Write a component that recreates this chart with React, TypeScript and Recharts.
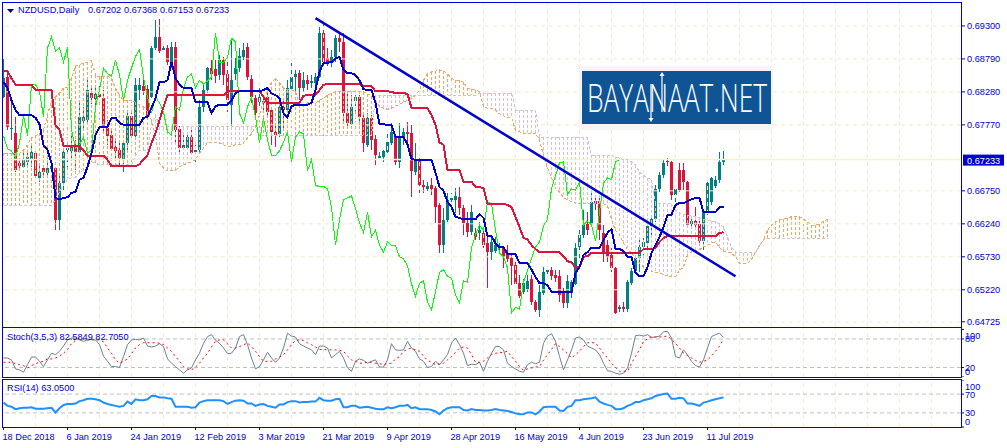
import React from "react";
import {
  Bar,
  ComposedChart,
  Line,
  ReferenceLine,
  XAxis,
  YAxis,
} from "recharts";

// Prices are kept in pips (price x 10000) to keep the lists short.
const opens = [
  6820,6851,6771,6764,6718,6712,6720,6724,6733,6695,
  6710,6703,6709,6710,6630,6687,6738,6737,6746,6735,
  6783,6784,6826,6817,6825,6818,6772,6761,6743,6738,
  6724,6749,6791,6760,6831,6837,6832,6820,6896,6913,
  6893,6896,6874,6897,6771,6741,6741,6758,6735,6738,
  6805,6831,6865,6863,6854,6877,6856,6808,6856,6865,
  6882,6897,6848,6818,6812,6814,6820,6800,6766,6763,
  6805,6800,6832,6851,6857,6834,6846,6842,6842,6851,
  6919,6880,6874,6882,6911,6905,6795,6778,6814,6820,
  6788,6746,6788,6755,6726,6727,6735,6749,6758,6720,
  6758,6766,6764,6704,6723,6684,6678,6684,6679,6653,
  6591,6630,6661,6661,6665,6648,6625,6611,6610,6610,
  6610,6594,6580,6582,6587,6587,6577,6571,6560,6532,
  6519,6523,6539,6503,6491,6517,6549,6553,6545,6543,
  6517,6502,6517,6531,6588,6607,6624,6624,6659,6659,
  6610,6591,6576,6556,6492,6495,6492,6532,6551,6571,
  6588,6594,6621,6631,6678,6699,6721,6720,6669,6707,
  6707,6689,6624,6628,6624,6597,6642,6658,6682,6692,
  6720,
];
const closes = [
  6849,6774,6772,6707,6713,6724,6727,6735,6698,6704,
  6704,6710,6713,6630,6687,6735,6741,6746,6735,6789,
  6789,6831,6818,6825,6820,6772,6760,6740,6737,6726,
  6749,6791,6760,6839,6839,6829,6789,6896,6913,6891,
  6896,6874,6897,6769,6741,6746,6758,6733,6738,6805,
  6831,6865,6856,6852,6877,6854,6815,6846,6865,6883,
  6893,6851,6820,6795,6820,6811,6797,6766,6761,6805,
  6800,6834,6851,6856,6834,6846,6840,6845,6851,6919,
  6874,6873,6882,6911,6905,6795,6780,6805,6820,6789,
  6749,6788,6754,6730,6729,6737,6750,6766,6720,6758,
  6766,6763,6706,6723,6684,6681,6682,6678,6650,6591,
  6630,6661,6664,6667,6648,6625,6611,6642,6604,6614,
  6591,6580,6596,6591,6590,6573,6570,6559,6531,6512,
  6532,6536,6503,6491,6519,6549,6553,6543,6540,6514,
  6502,6536,6534,6587,6607,6622,6614,6658,6655,6614,
  6579,6573,6556,6486,6495,6492,6534,6551,6571,6588,
  6596,6621,6631,6678,6699,6718,6720,6669,6678,6676,
  6689,6622,6628,6622,6597,6642,6687,6695,6692,6720,
  6723,
];
const highs = [
  6879,6862,6815,6789,6723,6738,6735,6749,6735,6718,
  6713,6726,6723,6710,6699,6738,6744,6764,6754,6811,
  6805,6846,6839,6834,6842,6831,6784,6769,6754,6749,
  6754,6800,6800,6849,6849,6854,6839,6899,6939,6941,
  6904,6900,6905,6905,6775,6764,6761,6769,6746,6815,
  6839,6866,6877,6877,6885,6882,6874,6911,6880,6896,
  6904,6904,6854,6823,6834,6823,6831,6803,6777,6811,
  6815,6846,6873,6862,6862,6859,6854,6854,6857,6928,
  6939,6896,6893,6916,6919,6919,6826,6823,6823,6823,
  6792,6795,6792,6761,6735,6738,6764,6780,6761,6780,
  6772,6781,6777,6749,6726,6692,6689,6695,6682,6656,
  6648,6672,6672,6679,6681,6653,6642,6653,6617,6627,
  6617,6607,6602,6604,6594,6590,6591,6576,6565,6545,
  6539,6545,6545,6506,6529,6557,6557,6557,6553,6553,
  6525,6545,6537,6594,6617,6645,6642,6673,6665,6664,
  6622,6599,6587,6557,6498,6503,6537,6556,6574,6599,
  6602,6627,6638,6684,6704,6723,6726,6721,6681,6718,
  6718,6690,6633,6650,6630,6645,6689,6696,6698,6735,
  6737,
];
const lows = [
  6818,6769,6754,6704,6710,6710,6715,6712,6687,6689,
  6699,6695,6704,6614,6614,6676,6707,6723,6707,6733,
  6769,6781,6809,6803,6812,6766,6746,6738,6726,6712,
  6704,6738,6754,6758,6815,6823,6784,6818,6893,6888,
  6887,6870,6865,6750,6735,6738,6738,6730,6718,6733,
  6797,6826,6846,6842,6846,6839,6797,6774,6846,6859,
  6877,6846,6811,6784,6805,6795,6788,6746,6743,6758,
  6772,6797,6828,6823,6815,6828,6831,6834,6839,6849,
  6868,6868,6866,6874,6890,6778,6774,6777,6792,6777,
  6735,6743,6738,6715,6726,6720,6733,6746,6715,6710,
  6746,6750,6665,6699,6672,6672,6675,6669,6625,6579,
  6579,6627,6642,6641,6638,6607,6604,6607,6599,6599,
  6587,6525,6568,6579,6580,6556,6565,6529,6529,6509,
  6515,6519,6498,6488,6480,6514,6546,6537,6534,6503,
  6494,6494,6509,6529,6571,6602,6607,6621,6645,6599,
  6565,6565,6549,6485,6488,6488,6488,6529,6548,6549,
  6568,6584,6607,6627,6673,6695,6713,6661,6656,6673,
  6676,6619,6617,6617,6591,6584,6638,6653,6679,6687,
  6715,
];
const tenkan = [
  6843,6834,6815,6800,6792,6792,6792,6792,6788,6778,
  6746,6738,6718,6664,6662,6664,6665,6672,6673,6692,
  6695,6712,6733,6761,6774,6774,6774,6788,6788,6780,
  6777,6777,6777,6777,6777,6788,6789,6803,6818,6843,
  6843,6846,6874,6849,6839,6834,6834,6834,6812,6812,
  6812,6812,6795,6806,6808,6808,6808,6815,6826,6829,
  6829,6829,6829,6829,6829,6831,6834,6826,6823,6818,
  6795,6789,6806,6808,6808,6808,6808,6811,6831,6859,
  6873,6873,6874,6880,6882,6862,6857,6857,6854,6846,
  6832,6831,6831,6811,6778,6778,6777,6777,6758,6758,
  6758,6747,6724,6723,6723,6723,6723,6723,6703,6681,
  6675,6658,6650,6635,6633,6631,6631,6631,6631,6639,
  6633,6605,6605,6594,6588,6588,6577,6577,6577,6563,
  6563,6563,6553,6542,6532,6532,6529,6519,6519,6519,
  6519,6519,6519,6548,6557,6576,6580,6587,6587,6587,
  6599,6610,6616,6585,6585,6582,6573,6573,6548,6543,
  6543,6557,6579,6591,6604,6619,6638,6638,6653,6656,
  6656,6659,6662,6664,6664,6642,6642,6642,6642,6650,
  6650,
];
const kijun = [
  6860,6860,6849,6839,6839,6839,6839,6839,6831,6831,
  6831,6831,6831,6777,6769,6744,6744,6744,6744,6744,
  6738,6729,6729,6729,6729,6729,6723,6713,6713,6713,
  6713,6713,6713,6713,6716,6724,6730,6749,6764,6784,
  6805,6823,6823,6823,6823,6823,6823,6823,6823,6823,
  6823,6823,6823,6823,6823,6823,6829,6829,6829,6829,
  6829,6829,6829,6829,6829,6820,6811,6811,6811,6811,
  6811,6811,6811,6811,6811,6822,6823,6823,6823,6831,
  6839,6840,6840,6840,6840,6840,6840,6840,6840,6840,
  6837,6837,6837,6829,6829,6829,6829,6828,6826,6826,
  6826,6825,6803,6803,6803,6803,6803,6792,6777,6750,
  6746,6707,6707,6707,6707,6689,6689,6689,6681,6681,
  6679,6655,6655,6655,6655,6655,6653,6650,6635,6619,
  6602,6600,6591,6585,6580,6580,6580,6580,6580,6580,
  6574,6566,6565,6556,6557,6573,6574,6579,6579,6579,
  6579,6579,6579,6579,6579,6579,6579,6579,6579,6579,
  6585,6585,6585,6587,6596,6602,6605,6605,6605,6605,
  6605,6605,6605,6605,6605,6605,6605,6605,6605,6610,
  6611,
];
const chikou = [
  6760,6740,6737,6726,6749,6791,6760,6839,6839,6829,
  6789,6896,6913,6891,6896,6874,6897,6769,6741,6746,
  6758,6733,6738,6805,6831,6865,6856,6852,6877,6854,
  6815,6846,6865,6883,6893,6851,6820,6795,6820,6811,
  6797,6766,6761,6805,6800,6834,6851,6856,6834,6846,
  6840,6845,6851,6919,6874,6873,6882,6911,6905,6795,
  6780,6805,6820,6789,6749,6788,6754,6730,6729,6737,
  6750,6766,6720,6758,6766,6763,6706,6723,6684,6681,
  6682,6678,6650,6591,6630,6661,6664,6667,6648,6625,
  6611,6642,6604,6614,6591,6580,6596,6591,6590,6573,
  6570,6559,6531,6512,6532,6536,6503,6491,6519,6549,
  6553,6543,6540,6514,6502,6536,6534,6587,6607,6622,
  6614,6658,6655,6614,6579,6573,6556,6486,6495,6492,
  6534,6551,6571,6588,6596,6621,6631,6678,6699,6718,
  6720,6669,6678,6676,6689,6622,6628,6622,6597,6642,
  6687,6695,6692,6720,6723,
];
const spanA = [
  6733,6733,6733,6733,6733,6738,6746,6757,6760,6764,
  6769,6792,6815,6820,6826,6834,6835,6849,6868,6870,
  6873,6874,6877,6854,6851,6852,6852,6849,6834,6823,
  6815,6815,6815,6812,6808,6805,6797,6784,6761,6718,
  6710,6706,6706,6707,6712,6715,6718,6720,6723,6733,
  6741,6749,6749,6749,6749,6746,6744,6744,6746,6746,
  6749,6757,6763,6774,6792,6815,6831,6843,6849,6842,
  6834,6831,6831,6828,6808,6809,6811,6811,6811,6815,
  6818,6823,6826,6828,6829,6829,6829,6829,6829,6829,
  6828,6825,6822,6815,6806,6803,6801,6803,6806,6809,
  6812,6815,6818,6823,6831,6846,6856,6859,6860,6862,
  6860,6856,6849,6846,6846,6843,6834,6832,6831,6828,
  6805,6803,6803,6800,6794,6791,6789,6788,6769,6766,
  6764,6764,6764,6764,6754,6730,6710,6696,6679,6673,
  6665,6661,6658,6656,6656,6656,6656,6656,6656,6656,
  6655,6652,6630,6614,6607,6594,6584,6579,6571,6563,
  6557,6553,6551,6549,6548,6545,6543,6542,6542,6553,
  6556,6576,6580,6582,6584,6588,6591,6594,6596,6587,
  6582,6580,6579,6573,6563,6562,6563,6568,6580,6590,
  6599,6614,6622,6627,6630,6631,6633,6635,6635,6635,
  6631,6627,6622,6622,6624,6628,6631,
];
const spanB = [
  6653,6653,6653,6653,6653,6653,6653,6653,6653,6653,
  6653,6653,6653,6662,6673,6684,6693,6695,6696,6704,
  6707,6715,6720,6718,6715,6715,6715,6715,6715,6715,
  6715,6715,6715,6729,6738,6738,6738,6777,6792,6774,
  6774,6774,6774,6774,6774,6774,6774,6774,6774,6774,
  6774,6774,6774,6774,6774,6774,6774,6774,6774,6774,
  6774,6774,6774,6774,6760,6760,6760,6760,6760,6760,
  6760,6760,6760,6760,6760,6760,6760,6760,6760,6760,
  6760,6760,6760,6760,6760,6760,6760,6760,6760,6760,
  6760,6760,6760,6823,6823,6823,6823,6823,6823,6823,
  6823,6823,6823,6823,6823,6823,6823,6823,6823,6823,
  6823,6823,6823,6823,6823,6823,6823,6823,6823,6826,
  6826,6826,6826,6826,6826,6826,6826,6826,6800,6800,
  6800,6800,6800,6800,6758,6758,6758,6758,6758,6758,
  6758,6758,6758,6758,6758,6758,6758,6730,6730,6730,
  6730,6730,6730,6727,6726,6723,6723,6720,6715,6704,
  6699,6695,6692,6656,6655,6655,6655,6655,6645,6641,
  6639,6638,6636,6635,6633,6631,6630,6628,6628,6624,
  6619,6604,6588,6580,6579,6579,6579,6579,6579,6590,
  6599,6602,6602,6602,6602,6602,6602,6602,6602,6602,
  6602,6602,6602,6602,6602,6602,6602,
];
const stochMain = [
  40,40,36,17,15,10,26,42,42,33,
  22,36,50,47,54,65,78,82,82,78,
  75,78,79,78,68,44,33,22,22,20,
  43,68,78,79,78,82,65,63,65,70,
  64,38,29,22,15,8,15,19,36,50,
  71,85,89,77,71,61,49,50,61,85,
  89,68,40,17,22,36,52,40,31,40,
  61,92,86,84,70,65,61,57,47,65,
  65,61,40,47,54,40,19,12,33,38,
  35,29,33,36,21,21,36,70,57,56,
  57,75,61,54,38,33,20,22,33,26,
  36,47,71,82,68,50,24,27,26,31,
  12,33,50,64,64,57,29,22,17,12,
  10,26,31,28,31,71,86,91,75,43,
  15,36,57,82,84,78,65,61,57,47,
  29,13,12,8,6,8,19,50,87,88,
  86,89,83,84,86,95,96,82,43,40,
  57,47,33,24,21,36,61,85,89,92,
  83,
];
const stochSignal = [
  31,31,31,28,26,24,19,24,28,31,
  33,38,38,40,44,50,58,70,77,82,
  79,78,78,78,78,74,61,50,36,29,
  33,38,49,61,68,72,72,72,72,71,
  68,61,54,43,33,22,17,15,21,29,
  40,50,63,75,78,78,70,61,61,64,
  68,71,64,54,43,33,33,33,38,42,
  47,57,68,77,78,77,72,68,63,58,
  58,57,57,57,56,54,44,36,33,29,
  29,31,31,29,28,26,28,29,38,43,
  54,58,61,57,54,44,35,31,26,27,
  29,36,43,52,61,63,61,47,31,31,
  33,40,47,50,51,52,54,43,33,22,
  14,17,19,21,22,35,47,58,70,64,
  57,49,40,47,54,64,72,72,72,61,
  50,40,29,20,12,12,12,29,43,58,
  75,80,85,84,84,85,86,79,71,61,
  50,45,40,35,31,33,36,44,54,65,
  80,
];
const rsiValues = [
  52,45,43,38,40,41,41,42,39,39,
  39,40,41,31,40,47,49,49,50,55,
  57,60,60,59,57,52,49,47,45,43,
  45,54,49,59,57,57,59,66,66,63,
  63,61,60,43,43,43,43,41,42,52,
  55,57,57,57,57,55,49,53,56,57,
  56,50,50,45,48,49,45,43,41,48,
  48,53,55,55,52,53,53,54,54,62,
  57,56,56,59,60,42,42,45,45,41,
  42,43,41,39,38,38,42,40,42,45,
  45,47,40,42,38,38,38,36,33,27,
  35,40,42,42,42,36,35,38,36,36,
  35,35,36,38,36,35,34,32,29,27,
  27,31,31,27,33,42,43,43,43,35,
  34,43,45,57,57,59,60,61,63,54,
  50,47,45,38,38,40,45,48,53,53,
  57,59,61,66,68,70,71,60,60,62,
  61,50,50,48,45,52,54,57,59,61,
  63,
];

const priceTicks = [6930, 6879, 6828, 6777, 6675, 6624, 6573, 6522, 6472.5];
const lastPrice = 6723.3;
const trendLine = [
  { bar: 78, price: 6942 },
  { bar: 183, price: 6543 },
];
const stochTicks = [100, 80, 20, 0];
const stochLevels = [80, 20];
const rsiTicks = [100, 70, 30, 0];
const rsiLevels = [70, 30];
const gridBars = [8, 16, 24, 32, 40, 48, 56, 64, 72, 80, 88, 96, 104, 112, 120, 128, 136, 144, 152, 160, 168, 176, 184, 192, 200, 208, 216, 224, 232];
const dateBars = [0, 16, 32, 48, 64, 80, 96, 112, 128, 144, 160, 176];
const dateLabels = [
  "18 Dec 2018", "6 Jan 2019", "24 Jan 2019", "12 Feb 2019", "3 Mar 2019", "21 Mar 2019",
  "9 Apr 2019", "28 Apr 2019", "16 May 2019", "4 Jun 2019", "23 Jun 2019", "11 Jul 2019",
];
const quoteLabels = ["0.67202", "0.67368", "0.67153", "0.67233"];

const BLUE = "#0000d4";
const GRID = "#efedc4";
const FONT = "'Liberation Sans', Arial, sans-serif";
const FONT_SIZE = 9.2;
const BAR_DOMAIN: [number, number] = [-0.375, 239.375];

const priceRows = spanA.map((a, i) => ({
  bar: i,
  open: opens[i],
  close: closes[i],
  wick: highs[i] === undefined ? null : [lows[i], highs[i]],
  high: highs[i],
  low: lows[i],
  tenkan: tenkan[i] ?? null,
  kijun: kijun[i] ?? null,
  chikou: chikou[i] ?? null,
  spanA: a,
  spanB: spanB[i],
  cloud: [Math.min(a, spanB[i]), Math.max(a, spanB[i])],
}));
const stochRows = stochMain.map((v, i) => ({ bar: i, main: v, signal: stochSignal[i] }));
const rsiRows = rsiValues.map((v, i) => ({ bar: i, rsi: v }));

// Candle drawn from the bar's high-low range so the library's scale sets its place
const Candle = (props: any) => {
  const { x, y, width, height, payload } = props;
  if (!payload || !payload.wick) return null;
  const cx = Math.floor(x + width / 2);
  const pxPerPip = height / (payload.high - payload.low);
  const top = y + (payload.high - Math.max(payload.open, payload.close)) * pxPerPip;
  const bodyH = Math.max(1, Math.abs(payload.open - payload.close) * pxPerPip);
  const color = payload.close >= payload.open ? "#008080" : "#dc143c";
  return (
    <g shapeRendering="crispEdges">
      <rect x={cx} y={y} width={1} height={height} fill={color} />
      <rect x={cx - 1} y={top} width={3} height={bodyH} fill={color} />
    </g>
  );
};

const CloudHatch = (props: any) => {
  const { x, y, width, height, payload } = props;
  const cx = Math.floor(x + width / 2) + 0.5;
  const color = payload.spanA >= payload.spanB ? "#f4a460" : "#d8bfd8";
  return (
    <line
      x1={cx}
      x2={cx}
      y1={y}
      y2={y + height}
      stroke={color}
      strokeWidth={1}
      strokeDasharray="3 2"
      shapeRendering="crispEdges"
    />
  );
};

const PriceTick = ({ x, y, payload }: any) => (
  <text x={x} y={y} dy={3.5} fontSize={FONT_SIZE} fontFamily={FONT} fill={BLUE}>
    {(payload.value / 10000).toFixed(5)}
  </text>
);

// MT4 pushes the 100 and 0 labels inside the pane
const LevelTick = ({ x, y, payload }: any) => {
  const shift = payload.value === 100 ? 6 : payload.value === 0 ? -6 : 0;
  return (
    <text x={x} y={y + shift} dy={3.5} fontSize={FONT_SIZE} fontFamily={FONT} fill={BLUE}>
      {payload.value}
    </text>
  );
};

const DateTick = ({ x, y, payload }: any) => (
  <text x={x - 1} y={y} dy={9} fontSize={FONT_SIZE} fontFamily={FONT} fill={BLUE}>
    {dateLabels[dateBars.indexOf(payload.value)]}
  </text>
);

const PriceTag = ({ viewBox }: any) => (
  <g>
    <rect x={963} y={viewBox.y - 5} width={41} height={11} fill={BLUE} />
    <text x={967} y={viewBox.y + 4} fontSize={FONT_SIZE} fontFamily={FONT} fill="#ffffff">
      {(lastPrice / 10000).toFixed(5)}
    </text>
  </g>
);

const Pane = ({ top, height }: { top: number; height: number }) => (
  <div
    style={{
      position: "absolute",
      left: 2,
      top,
      width: 958,
      height,
      border: `1px solid ${BLUE}`,
      pointerEvents: "none",
    }}
  />
);

const Title = ({ left, top, children }: { left: number; top: number; children: React.ReactNode }) => (
  <span
    style={{
      position: "absolute",
      left,
      top,
      font: `${FONT_SIZE}px ${FONT}`,
      color: BLUE,
      whiteSpace: "nowrap",
      lineHeight: "12px",
    }}
  >
    {children}
  </span>
);

const Logo = () => (
  <svg style={{ position: "absolute", left: 0, top: 0 }} width={1007} height={448}>
    <rect x={579} y={66} width={194} height={64} fill="#f5f5f5" />
    <rect x={582} y={71} width={189} height={53} fill="#0f5596" />
    <text
      x={587}
      y={112}
      fontFamily="'Open Sans', sans-serif"
      fontWeight={300}
      fontSize={38}
      fill="#ffffff"
      textLength={180}
      lengthAdjust="spacingAndGlyphs"
    >
      BAYANAAT.NET
    </text>
    <line x1={651} x2={651} y1={84} y2={120} stroke="#ffffff" strokeWidth={1.2} />
    <line x1={662} x2={662} y1={74} y2={112} stroke="#ffffff" strokeWidth={1.2} />
    <path d="M648.5 118h5l-2.5 4z M659.5 76h5l-2.5 -4z" fill="#ffffff" />
  </svg>
);

const VerticalGrid = (xAxisId?: string) =>
  gridBars.map((b) => (
    <ReferenceLine key={`v${b}`} {...(xAxisId ? { xAxisId } : {})} x={b} stroke={GRID} strokeDasharray="4 4" />
  ));

export default function App() {
  return (
    <div style={{ position: "absolute", left: 0, top: 0, width: 1007, height: 448, background: "#fff", overflow: "hidden" }}>
      <div style={{ position: "absolute", left: 0, top: 0 }}>
        <ComposedChart width={1007} height={327} data={priceRows} margin={{ top: 2, right: 0, bottom: 1, left: 2 }}>
          <XAxis xAxisId="candles" dataKey="bar" type="number" domain={BAR_DOMAIN} hide />
          <XAxis xAxisId="cloud" dataKey="bar" type="number" domain={BAR_DOMAIN} hide />
          <YAxis
            orientation="right"
            width={46}
            domain={[6466, 6967]}
            ticks={priceTicks}
            interval={0}
            tick={<PriceTick />}
            tickSize={4}
            tickMargin={2}
            axisLine={false}
            tickLine={{ stroke: BLUE }}
          />
          {VerticalGrid("candles")}
          {priceTicks.map((p) => (
            <ReferenceLine key={`h${p}`} xAxisId="candles" y={p} stroke={GRID} strokeDasharray="4 4" />
          ))}
          <ReferenceLine xAxisId="candles" y={lastPrice} stroke="#f6f1c8" strokeWidth={1.5} label={<PriceTag />} />
          <Bar xAxisId="candles" dataKey="wick" barSize={3} shape={<Candle />} isAnimationActive={false} />
          <Bar xAxisId="cloud" dataKey="cloud" barSize={1} shape={<CloudHatch />} isAnimationActive={false} />
          <Line xAxisId="candles" dataKey="spanA" stroke="#f4a460" strokeWidth={1} strokeDasharray="3 2" shapeRendering="crispEdges" dot={false} activeDot={false} isAnimationActive={false} />
          <Line xAxisId="candles" dataKey="spanB" stroke="#d8bfd8" strokeWidth={1} strokeDasharray="3 2" shapeRendering="crispEdges" dot={false} activeDot={false} isAnimationActive={false} />
          <Line xAxisId="candles" dataKey="chikou" stroke="#00ff00" strokeWidth={1} shapeRendering="crispEdges" dot={false} activeDot={false} isAnimationActive={false} />
          <Line xAxisId="candles" dataKey="kijun" stroke="#dc143c" strokeWidth={2} shapeRendering="crispEdges" dot={false} activeDot={false} isAnimationActive={false} />
          <Line xAxisId="candles" dataKey="tenkan" stroke="#0000cd" strokeWidth={2} shapeRendering="crispEdges" dot={false} activeDot={false} isAnimationActive={false} />
          <ReferenceLine
            xAxisId="candles"
            segment={[
              { x: trendLine[0].bar, y: trendLine[0].price },
              { x: trendLine[1].bar, y: trendLine[1].price },
            ]}
            stroke="#0000cd"
            strokeWidth={2.5}
          />
        </ComposedChart>
      </div>

      <div style={{ position: "absolute", left: 0, top: 328 }}>
        <ComposedChart width={1007} height={49} data={stochRows} margin={{ top: 0, right: 0, bottom: 0, left: 2 }}>
          <XAxis dataKey="bar" type="number" domain={BAR_DOMAIN} hide />
          <YAxis
            orientation="right"
            width={46}
            domain={[0, 103]}
            ticks={stochTicks}
            interval={0}
            tick={<LevelTick />}
            tickSize={3}
            tickMargin={1}
            axisLine={false}
            tickLine={{ stroke: BLUE }}
          />
          {VerticalGrid()}
          {stochLevels.map((v) => (
            <ReferenceLine key={v} y={v} stroke="#c0c0c0" strokeDasharray="4 3" />
          ))}
          <Line dataKey="main" stroke="#708090" strokeWidth={1} dot={false} activeDot={false} isAnimationActive={false} />
          <Line dataKey="signal" stroke="#ff0000" strokeWidth={1} strokeDasharray="2 3" dot={false} activeDot={false} isAnimationActive={false} />
        </ComposedChart>
      </div>

      <div style={{ position: "absolute", left: 0, top: 380 }}>
        <ComposedChart width={1007} height={68} data={rsiRows} margin={{ top: 0, right: 0, bottom: 0, left: 2 }}>
          <XAxis
            dataKey="bar"
            type="number"
            domain={BAR_DOMAIN}
            ticks={dateBars}
            interval={0}
            height={21}
            tick={<DateTick />}
            tickSize={3}
            tickMargin={1}
            axisLine={false}
            tickLine={{ stroke: BLUE }}
          />
          <YAxis
            orientation="right"
            width={46}
            domain={[0, 100]}
            ticks={rsiTicks}
            interval={0}
            tick={<LevelTick />}
            tickSize={3}
            tickMargin={1}
            axisLine={false}
            tickLine={{ stroke: BLUE }}
          />
          {VerticalGrid()}
          {rsiLevels.map((v) => (
            <ReferenceLine key={v} y={v} stroke="#c0c0c0" strokeDasharray="4 3" />
          ))}
          <Line dataKey="rsi" stroke="#1e90ff" strokeWidth={2} dot={false} activeDot={false} isAnimationActive={false} />
        </ComposedChart>
      </div>

      <Logo />
      <Pane top={2} height={324} />
      <Pane top={327} height={49} />
      <Pane top={379} height={47} />

      <svg style={{ position: "absolute", left: 7, top: 9 }} width={7} height={5}>
        <path d="M0 0h7l-3.5 4z" fill="#000080" />
      </svg>
      <Title left={18} top={4}>NZDUSD,Daily</Title>
      {quoteLabels.map((q, i) => (
        <Title key={q} left={88 + i * 36} top={4}>{q}</Title>
      ))}
      <Title left={7} top={331}>Stoch(3,5,3) 82.5849 82.7050</Title>
      <Title left={7} top={382}>RSI(14) 63.0500</Title>
    </div>
  );
}
